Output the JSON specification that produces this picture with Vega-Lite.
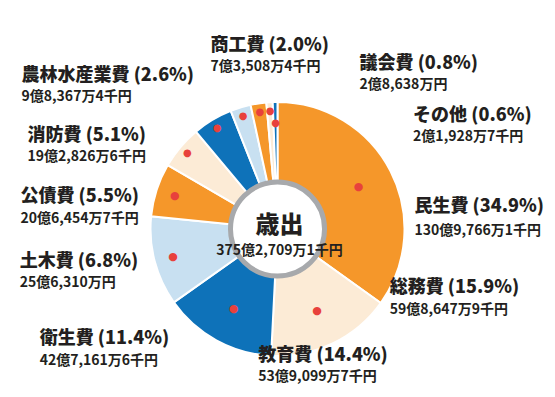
{
  "$schema": "https://vega.github.io/schema/vega-lite/v6.json",
  "width": 555,
  "height": 336,
  "autosize": "none",
  "padding": {"top": 61, "left": 0, "right": 0, "bottom": 0},
  "background": "white",
  "view": {"stroke": null},
  "config": {"text": {"font": "Noto Sans CJK JP", "fontWeight": "bold", "color": "#231f20"}},
  "data": {"values": [
    {"idx": 1, "cat": "民生費", "pct": 34.9, "title": "民生費 (34.9%)", "amount": "130億9,766万1千円"},
    {"idx": 2, "cat": "総務費", "pct": 15.9, "title": "総務費 (15.9%)", "amount": "59億8,647万9千円"},
    {"idx": 3, "cat": "教育費", "pct": 14.4, "title": "教育費 (14.4%)", "amount": "53億9,099万7千円"},
    {"idx": 4, "cat": "衛生費", "pct": 11.4, "title": "衛生費 (11.4%)", "amount": "42億7,161万6千円"},
    {"idx": 5, "cat": "土木費", "pct": 6.8, "title": "土木費 (6.8%)", "amount": "25億6,310万円"},
    {"idx": 6, "cat": "公債費", "pct": 5.5, "title": "公債費 (5.5%)", "amount": "20億6,454万7千円"},
    {"idx": 7, "cat": "消防費", "pct": 5.1, "title": "消防費 (5.1%)", "amount": "19億2,826万6千円"},
    {"idx": 8, "cat": "農林水産業費", "pct": 2.6, "title": "農林水産業費 (2.6%)", "amount": "9億8,367万4千円"},
    {"idx": 9, "cat": "商工費", "pct": 2.0, "title": "商工費 (2.0%)", "amount": "7億3,508万4千円"},
    {"idx": 10, "cat": "議会費", "pct": 0.8, "title": "議会費 (0.8%)", "amount": "2億8,638万円"},
    {"idx": 11, "cat": "その他", "pct": 0.6, "title": "その他 (0.6%)", "amount": "2億1,928万7千円"}
  ]},
  "encoding": {
    "theta": {"field": "pct", "type": "quantitative", "stack": true},
    "order": {"field": "idx", "type": "quantitative"}
  },
  "layer": [
    {
      "mark": {"type": "arc", "outerRadius": 127, "innerRadius": 40, "stroke": "white", "strokeWidth": 2},
      "encoding": {
        "color": {"field": "cat", "type": "nominal", "legend": null,
          "scale": {"domain": ["民生費","総務費","教育費","衛生費","土木費","公債費","消防費","農林水産業費","商工費","議会費","その他"],
                    "range": ["#f5972a","#fceBd6","#0e72b9","#c8e0f1","#f5972a","#fceBd6","#0e72b9","#c8e0f1","#f5972a","#fceBd6","#0e72b9"]}}
      }
    },
    {
      "mark": {"type": "text", "radius": 91, "fontSize": 11, "font": "DejaVu Sans", "color": "#e8413c", "align": "center", "baseline": "middle"},
      "encoding": {"text": {"condition": {"test": "indexof(['民生費','総務費','教育費'], datum.cat) >= 0", "value": "●"}, "value": ""}}
    },
    {
      "mark": {"type": "text", "radius": 108, "fontSize": 11, "font": "DejaVu Sans", "color": "#e8413c", "align": "center", "baseline": "middle"},
      "encoding": {"text": {"condition": {"test": "indexof(['衛生費','土木費'], datum.cat) >= 0", "value": "●"}, "value": ""}}
    },
    {
      "mark": {"type": "text", "radius": 118, "fontSize": 10, "font": "DejaVu Sans", "color": "#e8413c", "align": "center", "baseline": "middle"},
      "encoding": {"text": {"condition": {"test": "indexof(['公債費','消防費','農林水産業費','商工費','議会費'], datum.cat) >= 0", "value": "●"}, "value": ""}}
    },
    {
      "mark": {"type": "text", "radius": 106, "fontSize": 10, "font": "DejaVu Sans", "color": "#e8413c", "align": "center", "baseline": "middle"},
      "encoding": {"text": {"condition": {"test": "datum.cat === 'その他'", "value": "●"}, "value": ""}}
    },
    {"mark": {"type": "text", "radius": 127, "align": "left", "fontSize": 18, "fontWeight": 900, "dx": 24, "dy": 36}, "encoding": {"text": {"condition": {"test": "datum.cat === '民生費'", "field": "title"}, "value": ""}}},
    {"mark": {"type": "text", "radius": 127, "align": "left", "fontSize": 14, "dx": 24, "dy": 60}, "encoding": {"text": {"condition": {"test": "datum.cat === '民生費'", "field": "amount"}, "value": ""}}},
    {"mark": {"type": "text", "radius": 127, "align": "left", "fontSize": 18, "fontWeight": 900, "dx": 57, "dy": -55}, "encoding": {"text": {"condition": {"test": "datum.cat === '総務費'", "field": "title"}, "value": ""}}},
    {"mark": {"type": "text", "radius": 127, "align": "left", "fontSize": 14, "dx": 57, "dy": -33}, "encoding": {"text": {"condition": {"test": "datum.cat === '総務費'", "field": "amount"}, "value": ""}}},
    {"mark": {"type": "text", "radius": 127, "align": "left", "fontSize": 18, "fontWeight": 900, "dx": 42, "dy": 16}, "encoding": {"text": {"condition": {"test": "datum.cat === '教育費'", "field": "title"}, "value": ""}}},
    {"mark": {"type": "text", "radius": 127, "align": "left", "fontSize": 14, "dx": 42, "dy": 37}, "encoding": {"text": {"condition": {"test": "datum.cat === '教育費'", "field": "amount"}, "value": ""}}},
    {"mark": {"type": "text", "radius": 127, "align": "left", "fontSize": 18, "fontWeight": 900, "dx": -115, "dy": 78}, "encoding": {"text": {"condition": {"test": "datum.cat === '衛生費'", "field": "title"}, "value": ""}}},
    {"mark": {"type": "text", "radius": 127, "align": "left", "fontSize": 14, "dx": -115, "dy": 100}, "encoding": {"text": {"condition": {"test": "datum.cat === '衛生費'", "field": "amount"}, "value": ""}}},
    {"mark": {"type": "text", "radius": 127, "align": "left", "fontSize": 18, "fontWeight": 900, "dx": -137, "dy": 72}, "encoding": {"text": {"condition": {"test": "datum.cat === '土木費'", "field": "title"}, "value": ""}}},
    {"mark": {"type": "text", "radius": 127, "align": "left", "fontSize": 14, "dx": -137, "dy": 93}, "encoding": {"text": {"condition": {"test": "datum.cat === '土木費'", "field": "amount"}, "value": ""}}},
    {"mark": {"type": "text", "radius": 127, "align": "left", "fontSize": 18, "fontWeight": 900, "dx": -160, "dy": 50}, "encoding": {"text": {"condition": {"test": "datum.cat === '公債費'", "field": "title"}, "value": ""}}},
    {"mark": {"type": "text", "radius": 127, "align": "left", "fontSize": 14, "dx": -160, "dy": 72}, "encoding": {"text": {"condition": {"test": "datum.cat === '公債費'", "field": "amount"}, "value": ""}}},
    {"mark": {"type": "text", "radius": 127, "align": "left", "fontSize": 18, "fontWeight": 900, "dx": -185, "dy": 16}, "encoding": {"text": {"condition": {"test": "datum.cat === '消防費'", "field": "title"}, "value": ""}}},
    {"mark": {"type": "text", "radius": 127, "align": "left", "fontSize": 14, "dx": -185, "dy": 37}, "encoding": {"text": {"condition": {"test": "datum.cat === '消防費'", "field": "amount"}, "value": ""}}},
    {"mark": {"type": "text", "radius": 127, "align": "left", "fontSize": 18, "fontWeight": 900, "dx": -219, "dy": -31}, "encoding": {"text": {"condition": {"test": "datum.cat === '農林水産業費'", "field": "title"}, "value": ""}}},
    {"mark": {"type": "text", "radius": 127, "align": "left", "fontSize": 14, "dx": -219, "dy": -10}, "encoding": {"text": {"condition": {"test": "datum.cat === '農林水産業費'", "field": "amount"}, "value": ""}}},
    {"mark": {"type": "text", "radius": 127, "align": "left", "fontSize": 18, "fontWeight": 900, "dx": -48, "dy": -57}, "encoding": {"text": {"condition": {"test": "datum.cat === '商工費'", "field": "title"}, "value": ""}}},
    {"mark": {"type": "text", "radius": 127, "align": "left", "fontSize": 14, "dx": -48, "dy": -36}, "encoding": {"text": {"condition": {"test": "datum.cat === '商工費'", "field": "amount"}, "value": ""}}},
    {"mark": {"type": "text", "radius": 127, "align": "left", "fontSize": 18, "fontWeight": 900, "dx": 90, "dy": -38}, "encoding": {"text": {"condition": {"test": "datum.cat === '議会費'", "field": "title"}, "value": ""}}},
    {"mark": {"type": "text", "radius": 127, "align": "left", "fontSize": 14, "dx": 90, "dy": -17}, "encoding": {"text": {"condition": {"test": "datum.cat === '議会費'", "field": "amount"}, "value": ""}}},
    {"mark": {"type": "text", "radius": 127, "align": "left", "fontSize": 18, "fontWeight": 900, "dx": 138, "dy": 14}, "encoding": {"text": {"condition": {"test": "datum.cat === 'その他'", "field": "title"}, "value": ""}}},
    {"mark": {"type": "text", "radius": 127, "align": "left", "fontSize": 14, "dx": 138, "dy": 35}, "encoding": {"text": {"condition": {"test": "datum.cat === 'その他'", "field": "amount"}, "value": ""}}},
    {
      "data": {"values": [{"pct": 100, "label": "歳出", "total": "375億2,709万1千円"}]},
      "layer": [
        {"mark": {"type": "arc", "outerRadius": 47, "innerRadius": 0, "fill": "white", "stroke": "#a7a9ac", "strokeWidth": 5}},
        {"mark": {"type": "text", "align": "center", "fontSize": 24, "fontWeight": 900, "dx": 2, "dy": -3}, "encoding": {"text": {"field": "label"}}},
        {"mark": {"type": "text", "align": "center", "fontSize": 14, "dx": 2, "dy": 22}, "encoding": {"text": {"field": "total"}}}
      ]
    }
  ]
}
